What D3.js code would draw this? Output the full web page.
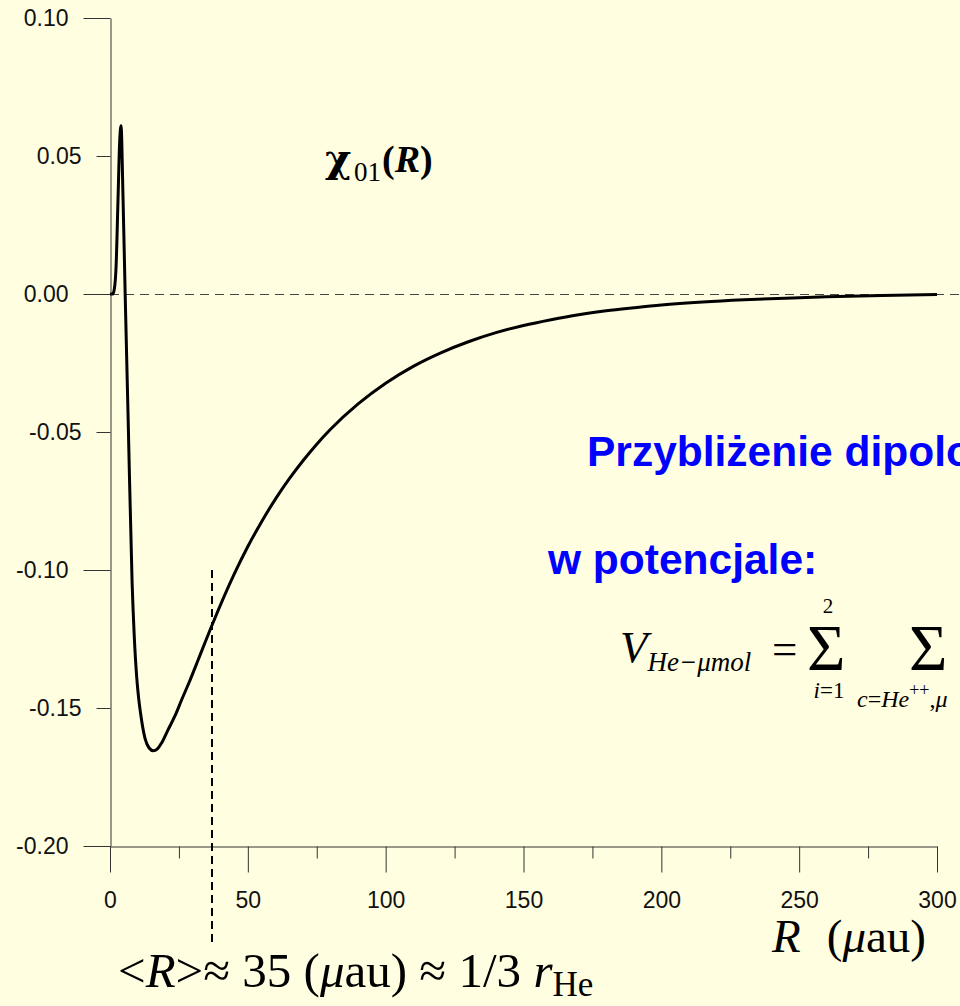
<!DOCTYPE html>
<html>
<head>
<meta charset="utf-8">
<script src="https://cdn.jsdelivr.net/npm/d3@7/dist/d3.min.js"></script>
<style>
  html, body { margin: 0; padding: 0; background: #fffee0; overflow: hidden; }
  svg { display: block; }
  .serif { font-family: "Liberation Serif", "Times New Roman", serif; }
  .sans { font-family: "Liberation Sans", Arial, Helvetica, sans-serif; }
</style>
</head>
<body>
<svg id="chart" width="960" height="1006"></svg>
<script>
// Radial function chi_01(R); R in micro-atomic units
const radius = [0, 1.0, 1.6, 2.2, 2.9, 3.5, 4.0, 4.7, 5.5, 6.6, 8.0, 8.8, 9.7, 10.4, 11.1, 12.7, 14.2, 15.7, 17.2, 18.7, 21, 23.6, 26, 28.8, 32, 37, 45, 50, 55, 60, 65, 70, 75, 80, 90, 100, 110, 120, 130, 140, 150, 160, 170, 180, 190, 200, 215, 230, 245, 260, 280, 300];
const chi = [0, 0, 0.002, 0.0098, 0.034, 0.055, 0.061, 0.036, 0, -0.046, -0.104, -0.124, -0.139, -0.1465, -0.152, -0.161, -0.1645, -0.1655, -0.1648, -0.1627, -0.158, -0.1528, -0.147, -0.1405, -0.1325, -0.12, -0.1016, -0.0915, -0.0825, -0.0743, -0.067, -0.0604, -0.0544, -0.049, -0.0398, -0.0323, -0.0262, -0.0213, -0.0173, -0.014, -0.0114, -0.0093, -0.0075, -0.0061, -0.005, -0.004, -0.0029, -0.0021, -0.0015, -0.001, -0.0005, -0.0002];

// Axis ticks
const xMajorTicks = [0, 50, 100, 150, 200, 250, 300];
const xMinorTicks = [25, 75, 125, 175, 225, 275];
const yMajorTicks = [0.10, 0.00, -0.10, -0.20];
const yMinorTicks = [0.05, -0.05, -0.15];

// Mean radius marker
const meanR = 37;
const meanMarkerTop = -0.10;

const svg = d3.select("#chart");
svg.append("rect").attr("width", 960).attr("height", 1006).attr("fill", "#fffee0");

const x = d3.scaleLinear().domain([0, 300]).range([110, 937]);
const y = d3.scaleLinear().domain([-0.2, 0.1]).range([846, 18]);

const fmt = d => d.toFixed(2);
const axisColor = "#333";

function styleAxis(g) {
  g.selectAll("path, line").attr("stroke", axisColor).attr("stroke-width", 1);
  g.selectAll("text")
    .attr("class", "sans")
    .attr("fill", "#111")
    .style("font-size", "23px");
}

// Y axis (major + minor)
svg.append("g").attr("transform", "translate(110.5,0)")
  .call(d3.axisLeft(y).tickValues(yMajorTicks).tickSize(27).tickSizeOuter(0).tickPadding(15).tickFormat(fmt))
  .call(styleAxis);
svg.append("g").attr("transform", "translate(110.5,0)")
  .call(d3.axisLeft(y).tickValues(yMinorTicks).tickSize(14).tickSizeOuter(0).tickPadding(15).tickFormat(fmt))
  .call(g => g.select(".domain").remove())
  .call(styleAxis);

// X axis (major + minor)
svg.append("g").attr("transform", "translate(0,846.5)")
  .call(d3.axisBottom(x).tickValues(xMajorTicks).tickSize(26).tickSizeOuter(0).tickPadding(19).tickFormat(d3.format("d")))
  .call(styleAxis);
svg.append("g").attr("transform", "translate(0,846.5)")
  .call(d3.axisBottom(x).tickValues(xMinorTicks).tickSize(12).tickSizeOuter(0).tickFormat(""))
  .call(g => g.select(".domain").remove())
  .call(styleAxis);

// Zero reference line
svg.append("line")
  .attr("x1", x(0)).attr("x2", 960)
  .attr("y1", y(0) + 0.5).attr("y2", y(0) + 0.5)
  .attr("stroke", "#444").attr("stroke-width", 1)
  .attr("stroke-dasharray", "9,6");

// Curve
const pts = radius.map((r, i) => [r, chi[i]]);
svg.append("path")
  .datum(pts)
  .attr("fill", "none")
  .attr("stroke", "#000")
  .attr("stroke-width", 3)
  .attr("stroke-linejoin", "round")
  .attr("d", d3.line().x(d => x(d[0])).y(d => y(d[1])).curve(d3.curveMonotoneX));

// Mean radius marker
svg.append("line")
  .attr("x1", x(meanR)).attr("x2", x(meanR))
  .attr("y1", y(meanMarkerTop)).attr("y2", 942)
  .attr("stroke", "#000").attr("stroke-width", 2)
  .attr("stroke-dasharray", "8,5");

// Function label chi_01(R)
svg.append("text")
  .attr("x", 325).attr("y", 172)
  .style("font-family", "'DejaVu Serif', serif")
  .attr("font-weight", "bold").style("font-size", "40px").attr("fill", "#000")
  .text("χ");
const lab = svg.append("text").attr("class", "serif").attr("x", 354).attr("y", 172).attr("fill", "#000");
lab.append("tspan").style("font-size", "27px").attr("dy", 9).text("01");
lab.append("tspan").attr("font-weight", "bold").style("font-size", "38px").attr("dy", -9).attr("dx", 1).text("(");
lab.append("tspan").attr("font-weight", "bold").attr("font-style", "italic").style("font-size", "38px").text("R");
lab.append("tspan").attr("font-weight", "bold").style("font-size", "38px").text(")");

// Blue annotation
svg.append("text").attr("class", "sans").attr("x", 587).attr("y", 466)
  .attr("fill", "#0000ff").attr("font-weight", "bold").style("font-size", "42.5px")
  .text("Przybliżenie dipolowe");
svg.append("text").attr("class", "sans").attr("x", 548).attr("y", 574)
  .attr("fill", "#0000ff").attr("font-weight", "bold").style("font-size", "42.5px")
  .text("w potencjale:");

// Potential formula
const f = svg.append("g").attr("class", "serif").attr("fill", "#000");
const v = f.append("text").attr("x", 620).attr("y", 662);
v.append("tspan").attr("font-style", "italic").style("font-size", "45px").text("V");
v.append("tspan").attr("font-style", "italic").style("font-size", "27px").attr("dy", 9).text("He−μmol");
f.append("text").attr("x", 772).attr("y", 664).style("font-size", "45px").text("=");
f.append("text").attr("x", 807).attr("y", 670).style("font-size", "66px").text("Σ");
f.append("text").attr("x", 828).attr("y", 613).attr("text-anchor", "middle").style("font-size", "21px").text("2");
const il = f.append("text").attr("x", 829).attr("y", 698).attr("text-anchor", "middle").style("font-size", "23px");
il.append("tspan").attr("font-style", "italic").text("i");
il.append("tspan").text("=1");
f.append("text").attr("x", 909).attr("y", 670).style("font-size", "66px").text("Σ");
const cl = f.append("text").attr("x", 857).attr("y", 707).style("font-size", "24px");
cl.append("tspan").attr("font-style", "italic").text("c");
cl.append("tspan").text("=");
cl.append("tspan").attr("font-style", "italic").text("He");
cl.append("tspan").attr("dy", -11).style("font-size", "18px").text("++");
cl.append("tspan").attr("dy", 11).text(",");
cl.append("tspan").attr("font-style", "italic").text("μ");

// Axis title
const xt = svg.append("text").attr("class", "serif").attr("x", 772).attr("y", 952).style("font-size", "47px").attr("fill", "#000");
xt.append("tspan").attr("font-style", "italic").text("R");
xt.append("tspan").attr("dx", 26).text("(");
xt.append("tspan").attr("font-style", "italic").text("μ");
xt.append("tspan").text("au)");

// Mean radius annotation
const mt = svg.append("text").attr("class", "serif").attr("x", 118).attr("y", 987).style("font-size", "49px").attr("fill", "#000");
mt.append("tspan").text("<");
mt.append("tspan").attr("font-style", "italic").text("R");
mt.append("tspan").text(">≈ 35 (");
mt.append("tspan").attr("font-style", "italic").text("μ");
mt.append("tspan").text("au) ≈ 1/3 ");
mt.append("tspan").attr("font-style", "italic").text("r");
mt.append("tspan").attr("dy", 9).style("font-size", "35px").text("He");
</script>
</body>
</html>
